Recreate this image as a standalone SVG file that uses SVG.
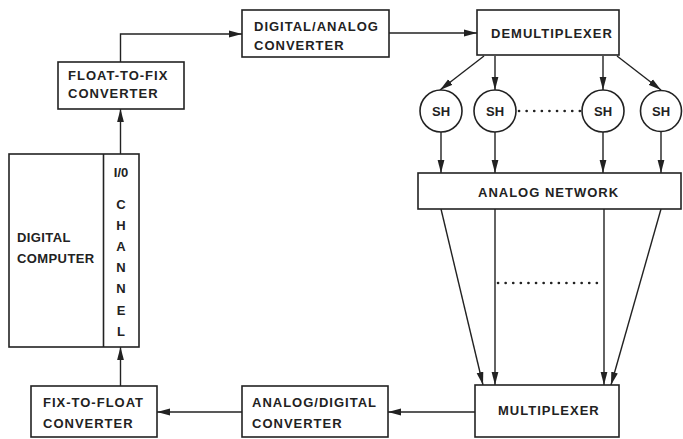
<svg xmlns="http://www.w3.org/2000/svg" width="683" height="439" viewBox="0 0 683 439">
<defs>
<style>
.box{fill:#fff;stroke:#222;stroke-width:1.6}
.ln{fill:none;stroke:#222;stroke-width:1.4}
.dot{fill:none;stroke:#222;stroke-width:2.6;stroke-dasharray:0.1 7.5;stroke-linecap:round}
text{font-family:"Liberation Sans",Arial,sans-serif;font-weight:bold;font-size:13px;fill:#222;letter-spacing:1px}
.c{text-anchor:middle;letter-spacing:0}
.t{letter-spacing:0.4px}
</style>
<marker id="ah" markerUnits="userSpaceOnUse" markerWidth="14" markerHeight="8" refX="13" refY="4" orient="auto">
<path d="M0,0.6 L13,4 L0,7.4 Z" fill="#222"/>
</marker>
</defs>
<rect width="683" height="439" fill="#fff"/>
<g id="connectors">
<path class="ln" d="M120.5,62 V34 H242" marker-end="url(#ah)"/>
<path class="ln" d="M120.5,154 V109" marker-end="url(#ah)"/>
<path class="ln" d="M120.5,386 V347" marker-end="url(#ah)"/>
<path class="ln" d="M389,33 H477" marker-end="url(#ah)"/>
<path class="ln" d="M484,56 L440,90" marker-end="url(#ah)"/>
<path class="ln" d="M495,56 V90" marker-end="url(#ah)"/>
<path class="ln" d="M603,56 V90" marker-end="url(#ah)"/>
<path class="ln" d="M617,56 L661,90" marker-end="url(#ah)"/>
<path class="ln" d="M441,132 V173" marker-end="url(#ah)"/>
<path class="ln" d="M495,132 V173" marker-end="url(#ah)"/>
<path class="ln" d="M603,132 V173" marker-end="url(#ah)"/>
<path class="ln" d="M661,132 V173" marker-end="url(#ah)"/>
<path class="ln" d="M441,209 L483,385" marker-end="url(#ah)"/>
<path class="ln" d="M495,209 V385" marker-end="url(#ah)"/>
<path class="ln" d="M604,209 V385" marker-end="url(#ah)"/>
<path class="ln" d="M661,209 L611,385" marker-end="url(#ah)"/>
<path class="ln" d="M475,412 H388" marker-end="url(#ah)"/>
<path class="ln" d="M242,412 H157" marker-end="url(#ah)"/>
<path class="dot" d="M519,111 H582"/>
<path class="dot" d="M498,283 H599"/>
</g>
<g id="float-to-fix">
<rect class="box" x="58" y="62" width="126" height="47"/>
<text x="68" y="80">FLOAT-TO-FIX</text>
<text x="68" y="98">CONVERTER</text>
</g>
<g id="digital-analog">
<rect class="box" x="242" y="10" width="147" height="47"/>
<text x="254" y="31">DIGITAL/ANALOG</text>
<text x="254" y="50">CONVERTER</text>
</g>
<g id="demultiplexer">
<rect class="box" x="477" y="10" width="142" height="45"/>
<text x="491" y="38">DEMULTIPLEXER</text>
</g>
<g id="sh1"><circle class="box" cx="441" cy="111" r="21"/><text class="c" x="441" y="115.5">SH</text></g>
<g id="sh2"><circle class="box" cx="495" cy="111" r="21"/><text class="c" x="495" y="115.5">SH</text></g>
<g id="sh3"><circle class="box" cx="603" cy="111" r="21"/><text class="c" x="603" y="115.5">SH</text></g>
<g id="sh4"><circle class="box" cx="661" cy="111" r="20.5"/><text class="c" x="661" y="115.5">SH</text></g>
<g id="analog-network">
<rect class="box" x="418" y="173" width="263" height="36"/>
<text x="478" y="197">ANALOG NETWORK</text>
</g>
<g id="multiplexer">
<rect class="box" x="475" y="385" width="144" height="52"/>
<text x="498" y="415">MULTIPLEXER</text>
</g>
<g id="analog-digital">
<rect class="box" x="242" y="386" width="146" height="51"/>
<text x="252" y="407">ANALOG/DIGITAL</text>
<text x="252" y="428">CONVERTER</text>
</g>
<g id="fix-to-float">
<rect class="box" x="31" y="386" width="126" height="51"/>
<text x="43" y="407">FIX-TO-FLOAT</text>
<text x="43" y="428">CONVERTER</text>
</g>
<g id="digital-computer">
<rect class="box" x="9" y="154" width="130" height="193"/>
<line class="ln" x1="103.5" y1="154" x2="103.5" y2="347" style="stroke-width:1.6"/>
<text class="t" x="17" y="242">DIGITAL</text>
<text class="t" x="17" y="263">COMPUTER</text>
<g id="io-channel">
<text class="c" x="121" y="177">I/0</text>
<text class="c" x="121" y="209">C</text>
<text class="c" x="121" y="230">H</text>
<text class="c" x="121" y="251">A</text>
<text class="c" x="121" y="272">N</text>
<text class="c" x="121" y="293">N</text>
<text class="c" x="121" y="315">E</text>
<text class="c" x="121" y="336">L</text>
</g>
</g>
</svg>
